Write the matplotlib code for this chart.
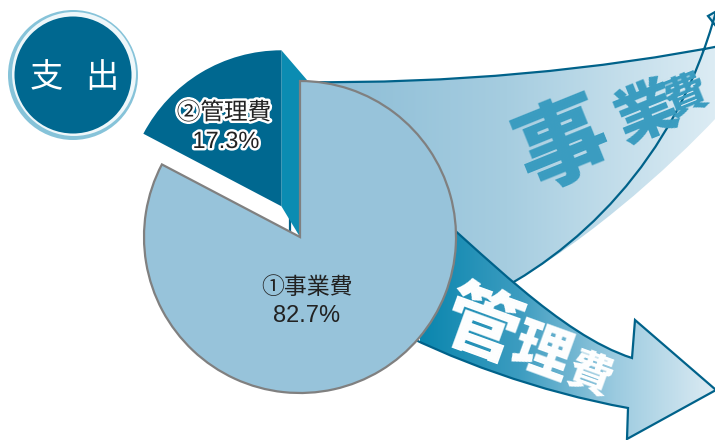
import numpy as np
import matplotlib
matplotlib.use("Agg")
import matplotlib.pyplot as plt
from matplotlib.path import Path
from matplotlib.patches import PathPatch, Circle, Polygon
from matplotlib.colors import LinearSegmentedColormap
import matplotlib.patheffects as pe

plt.rcParams['font.family'] = ['Noto Sans CJK JP', 'DejaVu Sans']

# data
names = ['事業費', '管理費']
marks = ['①', '②']
shares = [82.7, 17.3]
title = ['支', '出']

W, H = 715, 440


def P(x, y):
    # picture coords (y down) -> axes coords (y up)
    return (x, H - y)


def curve_path(pts, codes):
    return Path([P(*p) for p in pts], codes)


def gradient_fill(ax, patch, x0, x1, colors, z):
    cmap = LinearSegmentedColormap.from_list('g', colors)
    grad = np.linspace(0, 1, 256).reshape(1, -1)
    im = ax.imshow(grad, cmap=cmap, extent=[x0, x1, 0, H], aspect='auto',
                   zorder=z, interpolation='bilinear')
    im.set_clip_path(patch)


fig = plt.figure(figsize=(7.15, 4.4), dpi=100)
ax = fig.add_axes([0, 0, 1, 1])

M, L, C = Path.MOVETO, Path.LINETO, Path.CURVE4

# big arrow for 事業費 (behind)
a1 = curve_path(
    [(290, 82), (300, 82), (450, 84), (600, 70), (730, 44),
     (708, 16), (745, -5), (800, 60), (716, 118),
     (675, 162), (575, 255), (480, 300),
     (400, 335), (290, 335), (290, 82)],
    [M, L, C, C, C, L, L, L, L, C, C, C, L, L, Path.CLOSEPOLY])
p1 = PathPatch(a1, facecolor='none', edgecolor='#00628a', lw=1.6, zorder=1.5)
ax.add_patch(p1)
gradient_fill(ax, p1, 300, 715, ['#89bbd5', '#a6cde0', '#dcecf4'], 1)

# arrow for 管理費
a2 = curve_path(
    [(420, 200), (480, 250), (560, 335), (632, 358),
     (635, 320), (716, 390), (627, 439), (628, 408),
     (540, 392), (450, 360), (380, 322), (420, 200)],
    [M, C, C, C, L, L, L, L, C, C, C, Path.CLOSEPOLY])
p2 = PathPatch(a2, facecolor='none', edgecolor='#00628a', lw=1.6, zorder=2.5)
ax.add_patch(p2)
gradient_fill(ax, p2, 420, 715, ['#0a86ae', '#3c9cc0', '#9ccbe0', '#dcebf3'], 2)

# pie
center = P(300, 237)
radius = 156
wedges, _ = ax.pie(shares, startangle=90, counterclock=False,
                   colors=['#97c3da', '#006890'], radius=radius,
                   center=center, explode=[0, 0.23 * radius], frame=True,
                   wedgeprops=dict(linewidth=0))
main, cut = wedges
main.set_edgecolor('#808080')
main.set_linewidth(1.6)
main.set_zorder(4)
cut.set_zorder(3.5)

# side face of the pulled-out slice
cx, cy = cut.center
side = Polygon([(cx, cy), (cx, cy + radius),
                (center[0] + 7, center[1] + radius + 1), center],
               closed=True, facecolor='#0b8cb2', lw=0, zorder=3)
ax.add_patch(side)

# slice labels
num_font = ['Liberation Sans Narrow', 'Liberation Sans', 'DejaVu Sans']
ax.text(307, H - 287, marks[0] + names[0], ha='center', va='center',
        fontsize=16.5, color='#222222', zorder=6)
ax.text(307, H - 316, f'{shares[0]}%', ha='center', va='center',
        fontsize=17, color='#222222', zorder=6, family=num_font)
halo = [pe.withStroke(linewidth=3.5, foreground='white')]
ax.text(224, H - 113, marks[1] + names[1], ha='center', va='center',
        fontsize=17, color='#222222', zorder=6, path_effects=halo)
ax.text(226, H - 142, f'{shares[1]}%', ha='center', va='center',
        fontsize=17, color='#222222', zorder=6, path_effects=halo,
        family=num_font)

# arrow words
for ch, (x, y), s in zip(names[0], [(563, 147), (647, 114), (686, 96)],
                         [66, 44, 31]):
    ax.text(x, H - y, ch, ha='center', va='center', fontsize=s,
            fontweight='black', color='#3a9cc0', rotation=22, zorder=5)
for ch, (x, y), s in zip(names[1], [(481, 327), (542, 354), (590, 376)],
                         [55, 42, 32]):
    ax.text(x, H - y, ch, ha='center', va='center', fontsize=s,
            fontweight='black', color='white', rotation=-20, zorder=5)

# badge
bx, by = P(73, 75)
ax.add_patch(Circle((bx, by), 65, facecolor='#86c3d9', lw=0, zorder=6))
ax.add_patch(Circle((bx + 1, by + 1), 62, facecolor='#eef7fa', lw=0, zorder=6))
ax.add_patch(Circle((bx, by), 58.5, facecolor='#006890', lw=0, zorder=6))
for ch, dx in zip(title, [-27, 29]):
    ax.text(bx + dx, by - 2, ch, ha='center', va='center', fontsize=24,
            color='white', zorder=7)

ax.set_xlim(0, W)
ax.set_ylim(0, H)
ax.set_aspect('auto')
ax.axis('off')

fig.savefig('out.png', dpi=100)
